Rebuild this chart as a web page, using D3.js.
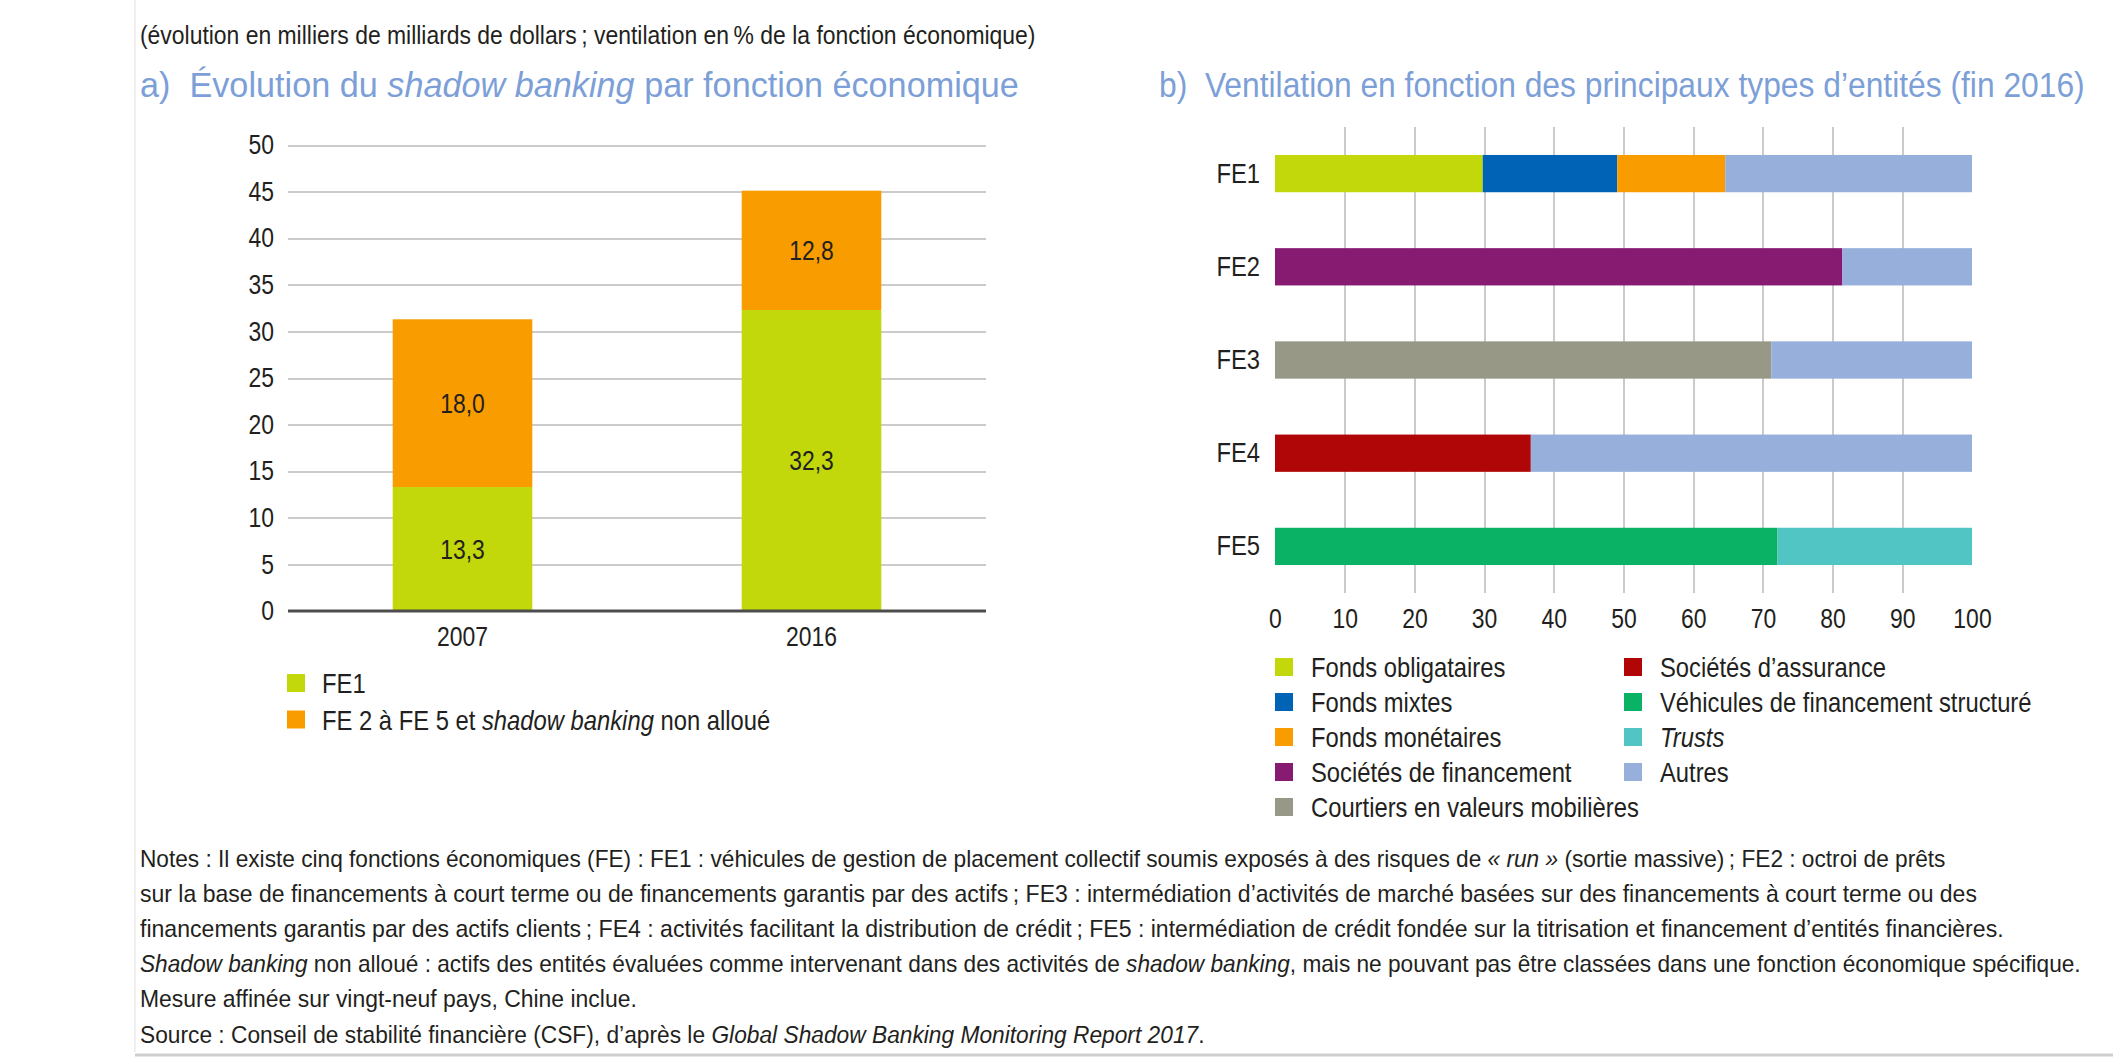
<!DOCTYPE html>
<meta charset="utf-8">
<head>
    <title>Shadow banking par fonction économique</title>
</head>

<style>
    body { margin: 0; background: #fff; }
    svg text {
        font-family: "Liberation Sans", Arial, sans-serif;
        fill: #231f20;
    }
    .title { fill: #7d9fd8 !important; font-size: 35px; }
    .grid line { stroke: #cbcbcb; stroke-width: 2px; shape-rendering: crispEdges; }
    .grid path { stroke-width: 0; }
    .axis path, .axis line { display: none; }
</style>

<script src="https://d3js.org/d3.v7.min.js"></script>

<div id="chart"></div>

<script>

    // ---- data: panel a (milliers de milliards de dollars)
    var years = ["2007", "2016"];
    var fe1 = [13.3, 32.3];
    var fe2to5 = [18.0, 12.8];
    var yTicks = [0, 5, 10, 15, 20, 25, 30, 35, 40, 45, 50];

    // ---- data: panel b (% de la fonction économique, fin 2016)
    var functions = ["FE1", "FE2", "FE3", "FE4", "FE5"];
    var entityTypes = ["Fonds obligataires", "Fonds mixtes", "Fonds monétaires",
        "Sociétés de financement", "Courtiers en valeurs mobilières",
        "Sociétés d’assurance", "Véhicules de financement structuré", "Trusts", "Autres"];
    var fondsObligataires = [29.8, 0, 0, 0, 0];
    var fondsMixtes = [19.3, 0, 0, 0, 0];
    var fondsMonetaires = [15.5, 0, 0, 0, 0];
    var societesFinancement = [0, 81.4, 0, 0, 0];
    var courtiers = [0, 0, 71.2, 0, 0];
    var societesAssurance = [0, 0, 0, 36.7, 0];
    var vehicules = [0, 0, 0, 0, 72.1];
    var trusts = [0, 0, 0, 0, 27.9];
    var autres = [35.4, 18.6, 28.8, 63.3, 0];
    var xTicks = [0, 10, 20, 30, 40, 50, 60, 70, 80, 90, 100];

    var entityColors = ["#c3d80b", "#0063b5", "#f89c00", "#871a71", "#979886",
        "#b00608", "#0ab266", "#51c5c3", "#96afdb"];

    var W = 2113, H = 1058;
    var NARROW = 0.85;   // imitate a condensed face
    var svg = d3.select("#chart").append("svg")
        .attr("width", W).attr("height", H);

    // squeeze a text horizontally around its x anchor
    function squeeze(node, s) {
        var x = +node.getAttribute("x") || 0;
        d3.select(node).attr("transform", "translate(" + (x * (1 - s)) + ",0) scale(" + s + ",1)");
    }
    // squeeze a left-anchored text so it spans a given width
    function fitWidth(sel, target) {
        var w = sel.node().getBBox().width;
        squeeze(sel.node(), target / w);
    }

    // faint frame lines
    svg.append("line").attr("x1", 135).attr("x2", 135).attr("y1", 0).attr("y2", H - 6)
        .attr("stroke", "#f0f0f0").attr("stroke-width", 2);
    svg.append("line").attr("x1", 135).attr("x2", W).attr("y1", 1055).attr("y2", 1055)
        .attr("stroke", "#cfcfcf").attr("stroke-width", 3);

    // rich text helper: parts = [[text, italic], ...]
    function richText(sel, parts) {
        parts.forEach(function (p) {
            sel.append("tspan").text(p[0]).style("font-style", p[1] ? "italic" : "normal");
        });
        return sel;
    }

    var sub = svg.append("text").attr("x", 140).attr("y", 44).style("font-size", "25px")
        .text("(évolution en milliers de milliards de dollars\u2009; ventilation en\u2009% de la fonction économique)");
    fitWidth(sub, 896);

    var ta = richText(svg.append("text").attr("class", "title").attr("x", 140).attr("y", 97),
        [["a)\u00a0 Évolution du ", false], ["shadow banking", true], [" par fonction économique", false]]);
    fitWidth(ta, 879);

    var tb = svg.append("text").attr("class", "title").attr("x", 1159).attr("y", 97)
        .text("b)\u00a0 Ventilation en fonction des principaux types d’entités (fin 2016)");
    fitWidth(tb, 926);

    // ================= panel a =================
    var x0 = 288, x1 = 986, yTop = 145, yBot = 611;
    var xa = d3.scaleBand().domain(years).range([x0, x1]).paddingInner(0.6).paddingOuter(0.3);
    var ya = d3.scaleLinear().domain([0, 50]).range([yBot, yTop]);

    svg.append("g").attr("class", "grid")
        .attr("transform", "translate(" + x0 + ",0)")
        .call(d3.axisLeft(ya).tickValues(yTicks.slice(1)).tickSize(-(x1 - x0)).tickFormat(""));

    var gy = svg.append("g").attr("class", "axis")
        .attr("transform", "translate(" + x0 + ",0)")
        .call(d3.axisLeft(ya).tickValues(yTicks).tickSize(0).tickPadding(14));
    gy.selectAll("text").style("font-size", "27px");

    var aData = years.map(function (y, i) { return { year: y, fe1: fe1[i], rest: fe2to5[i] }; });
    var aStack = d3.stack().keys(["fe1", "rest"])(aData);
    var aColors = { fe1: "#c3d80b", rest: "#f89c00" };

    aStack.forEach(function (layer) {
        var g = svg.append("g");
        g.selectAll("rect").data(layer).enter().append("rect")
            .attr("x", function (d) { return xa(d.data.year); })
            .attr("width", xa.bandwidth())
            .attr("y", function (d) { return ya(d[1]); })
            .attr("height", function (d) { return ya(d[0]) - ya(d[1]); })
            .attr("fill", aColors[layer.key]);
        g.selectAll("text").data(layer).enter().append("text")
            .attr("x", function (d) { return xa(d.data.year) + xa.bandwidth() / 2; })
            .attr("y", function (d) { return ya((d[0] + d[1]) / 2); })
            .attr("dy", "0.36em")
            .attr("text-anchor", "middle")
            .style("font-size", "27px")
            .text(function (d) { return d3.format(".1f")(d[1] - d[0]).replace(".", ","); });
    });

    // zero line
    svg.append("line").attr("x1", x0).attr("x2", x1).attr("y1", yBot).attr("y2", yBot)
        .attr("stroke", "#4d4d4d").attr("stroke-width", 3);

    var gx = svg.append("g").attr("class", "axis")
        .attr("transform", "translate(0," + yBot + ")")
        .call(d3.axisBottom(xa).tickSize(0).tickPadding(16));
    gx.selectAll("text").style("font-size", "27px");

    // legend a
    var legA = [[[["FE1", false]], "#c3d80b"],
        [[["FE 2 à FE 5 et ", false], ["shadow banking", true], [" non alloué", false]], "#f89c00"]];
    legA.forEach(function (l, i) {
        var cy = 683 + i * 36.5;
        svg.append("rect").attr("x", 287).attr("y", cy - 9).attr("width", 18).attr("height", 18).attr("fill", l[1]);
        richText(svg.append("text").attr("x", 322).attr("y", cy).attr("dy", "0.36em")
            .style("font-size", "28px"), l[0]);
    });

    // ================= panel b =================
    var bx0 = 1275, bx1 = 1972, by0 = 127, by1 = 593;
    var xb = d3.scaleLinear().domain([0, 100]).range([bx0, bx1]);
    var yb = d3.scaleBand().domain(functions).range([by0, by1]).paddingInner(0.6).paddingOuter(0.3);

    svg.append("g").attr("class", "grid")
        .attr("transform", "translate(0," + by1 + ")")
        .call(d3.axisBottom(xb).tickValues(xTicks.slice(1, -1)).tickSize(-(by1 - by0)).tickFormat(""));

    var series = [fondsObligataires, fondsMixtes, fondsMonetaires, societesFinancement, courtiers,
        societesAssurance, vehicules, trusts, autres];
    var bData = functions.map(function (f, i) {
        var o = { fe: f };
        entityTypes.forEach(function (k, j) { o[k] = series[j][i]; });
        return o;
    });
    var bStack = d3.stack().keys(entityTypes)(bData);
    var bColor = d3.scaleOrdinal().domain(entityTypes).range(entityColors);

    bStack.forEach(function (layer) {
        svg.append("g").selectAll("rect")
            .data(layer.filter(function (d) { return d[1] - d[0] > 0; }))
            .enter().append("rect")
            .attr("x", function (d) { return xb(d[0]); })
            .attr("width", function (d) { return xb(d[1]) - xb(d[0]); })
            .attr("y", function (d) { return yb(d.data.fe); })
            .attr("height", yb.bandwidth())
            .attr("fill", bColor(layer.key));
    });

    var gyb = svg.append("g").attr("class", "axis")
        .attr("transform", "translate(" + bx0 + ",0)")
        .call(d3.axisLeft(yb).tickSize(0).tickPadding(15));
    gyb.selectAll("text").style("font-size", "28px");

    var gxb = svg.append("g").attr("class", "axis")
        .attr("transform", "translate(0," + by1 + ")")
        .call(d3.axisBottom(xb).tickValues(xTicks).tickSize(0).tickPadding(16));
    gxb.selectAll("text").style("font-size", "27px");

    // legend b (two columns)
    var legCols = [[0, 1, 2, 3, 4], [5, 6, 7, 8]];
    var legX = [1275, 1624];
    legCols.forEach(function (col, c) {
        col.forEach(function (k, r) {
            var cy = 667 + r * 35;
            svg.append("rect").attr("x", legX[c]).attr("y", cy - 9).attr("width", 18).attr("height", 18)
                .attr("fill", entityColors[k]);
            svg.append("text").attr("x", legX[c] + 36).attr("y", cy).attr("dy", "0.36em")
                .style("font-size", "28px")
                .style("font-style", entityTypes[k] === "Trusts" ? "italic" : "normal")
                .text(entityTypes[k]);
        });
    });

    // condensed look for all short labels (titles and notes are fitted separately)
    svg.selectAll("text[dy]").each(function () { squeeze(this, NARROW); });

    // ================= notes =================
    var notes = [
        [["Notes : Il existe cinq fonctions économiques (FE) : FE1 : véhicules de gestion de placement collectif soumis exposés à des risques de ", false], ["« run »", true], [" (sortie massive)\u2009; FE2 : octroi de prêts", false]],
        [["sur la base de financements à court terme ou de financements garantis par des actifs\u2009; FE3 : intermédiation d’activités de marché basées sur des financements à court terme ou des", false]],
        [["financements garantis par des actifs clients\u2009; FE4 : activités facilitant la distribution de crédit\u2009; FE5 : intermédiation de crédit fondée sur la titrisation et financement d’entités financières.", false]],
        [["Shadow banking", true], [" non alloué : actifs des entités évaluées comme intervenant dans des activités de ", false], ["shadow banking", true], [", mais ne pouvant pas être classées dans une fonction économique spécifique.", false]],
        [["Mesure affinée sur vingt-neuf pays, Chine inclue.", false]],
        [["Source : Conseil de stabilité financière (CSF), d’après le ", false], ["Global Shadow Banking Monitoring Report 2017", true], [".", false]]
    ];
    var noteWidths = [1807, 1838, 1865, 1942, 497, 1065];
    notes.forEach(function (n, i) {
        var t = richText(svg.append("text").attr("x", 140).attr("y", 858 + i * 35.2).attr("dy", "0.36em")
            .style("font-size", "24px"), n);
        fitWidth(t, noteWidths[i]);
    });

</script>
